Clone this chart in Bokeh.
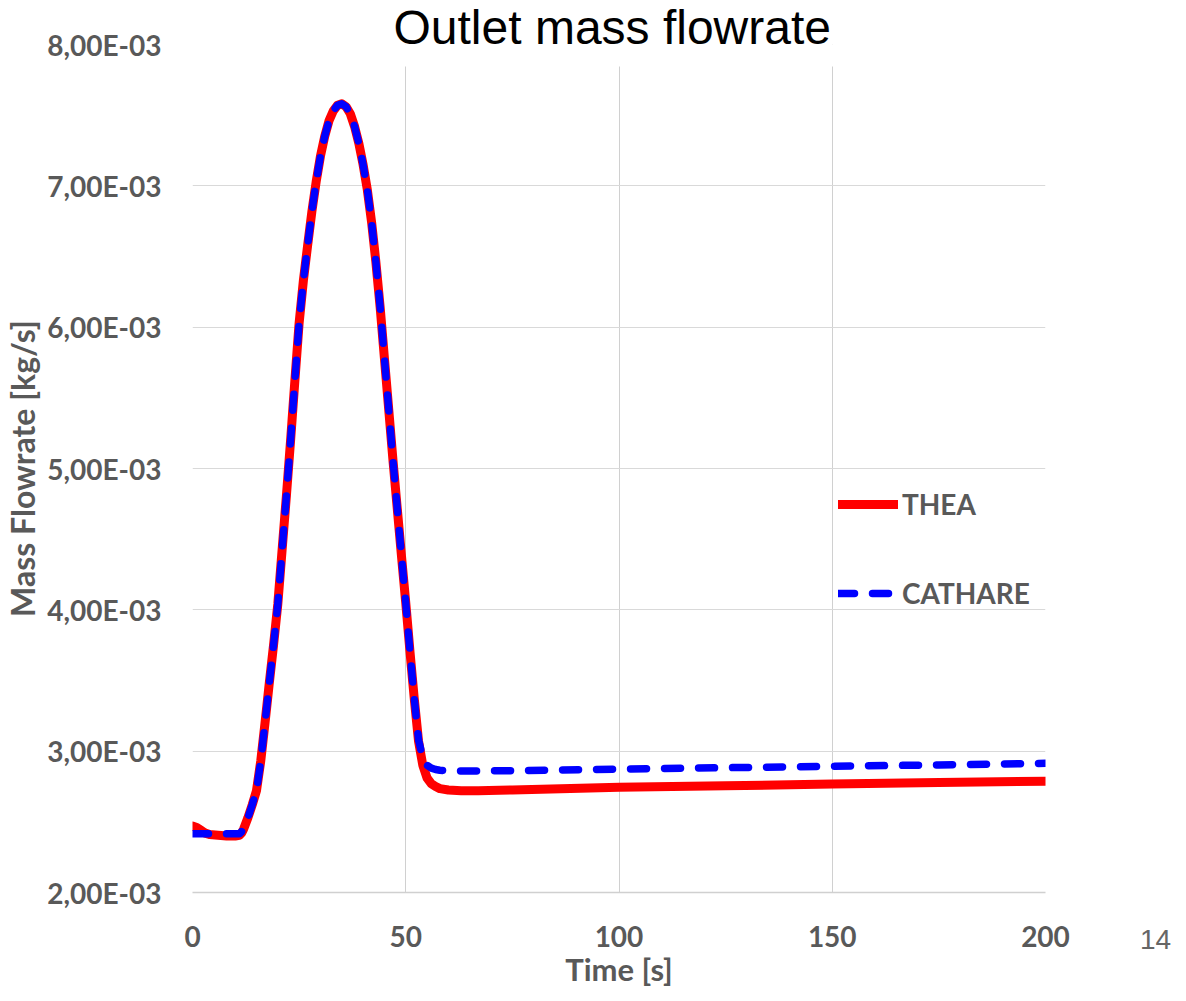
from bokeh.plotting import figure
from bokeh.embed import file_html
from bokeh.resources import INLINE
from bokeh.models import (Range1d, FixedTicker, CustomJSTickFormatter, Label,
                          BoxAnnotation, Legend, LegendItem)

# ---- data ----
time_s = [0, 1, 2, 3, 4, 6, 8, 10, 11, 11.5, 12, 13, 14, 15, 16, 17, 18, 19, 20,
          21, 22, 23, 24, 25, 26, 27, 28, 29, 30, 31, 32, 33, 34, 35, 36, 37, 38,
          39, 40, 41, 42, 43, 44, 45, 46, 47, 48, 49, 50, 51, 52, 53, 54, 55, 56,
          57, 58, 60, 63, 67, 75, 100, 125, 150, 175, 200]

thea = [2.47e-3, 2.46e-3, 2.44e-3, 2.42e-3, 2.41e-3, 2.405e-3, 2.40e-3, 2.40e-3,
        2.405e-3, 2.42e-3, 2.45e-3, 2.53e-3, 2.62e-3, 2.72e-3, 2.93e-3, 3.20e-3,
        3.48e-3, 3.75e-3, 4.04e-3, 4.42e-3, 4.80e-3, 5.20e-3, 5.62e-3, 6.03e-3,
        6.33e-3, 6.58e-3, 6.82e-3, 7.03e-3, 7.21e-3, 7.35e-3, 7.46e-3, 7.53e-3,
        7.57e-3, 7.58e-3, 7.56e-3, 7.51e-3, 7.42e-3, 7.30e-3, 7.15e-3, 6.97e-3,
        6.74e-3, 6.46e-3, 6.14e-3, 5.78e-3, 5.42e-3, 5.06e-3, 4.72e-3, 4.38e-3,
        4.05e-3, 3.70e-3, 3.37e-3, 3.07e-3, 2.90e-3, 2.81e-3, 2.77e-3, 2.75e-3,
        2.735e-3, 2.725e-3, 2.72e-3, 2.72e-3, 2.725e-3, 2.745e-3, 2.755e-3,
        2.767e-3, 2.778e-3, 2.787e-3]

cathare = [2.415e-3, 2.415e-3, 2.415e-3, 2.415e-3, 2.415e-3, 2.415e-3, 2.415e-3,
           2.415e-3, 2.415e-3, 2.43e-3, 2.46e-3, 2.53e-3, 2.62e-3, 2.72e-3,
           2.93e-3, 3.20e-3, 3.48e-3, 3.75e-3, 4.04e-3, 4.42e-3, 4.80e-3, 5.20e-3,
           5.62e-3, 6.03e-3, 6.33e-3, 6.58e-3, 6.82e-3, 7.03e-3, 7.21e-3, 7.35e-3,
           7.46e-3, 7.53e-3, 7.57e-3, 7.58e-3, 7.56e-3, 7.51e-3, 7.42e-3, 7.30e-3,
           7.15e-3, 6.97e-3, 6.74e-3, 6.46e-3, 6.14e-3, 5.78e-3, 5.42e-3, 5.06e-3,
           4.72e-3, 4.38e-3, 4.05e-3, 3.70e-3, 3.37e-3, 3.08e-3, 2.95e-3, 2.90e-3,
           2.88e-3, 2.87e-3, 2.865e-3, 2.862e-3, 2.86e-3, 2.86e-3, 2.862e-3,
           2.873e-3, 2.883e-3, 2.893e-3, 2.903e-3, 2.914e-3]

x_ticks = [0, 50, 100, 150, 200]
y_ticks = [2e-3, 3e-3, 4e-3, 5e-3, 6e-3, 7e-3, 8e-3]
series_names = ["THEA", "CATHARE"]
title_text = "Outlet mass flowrate"
x_label = "Time [s]"
y_label = "Mass Flowrate [kg/s]"
page_number = "14"

GRAY = "#595959"
GRID = "#d9d9d9"

p = figure(frame_width=853, frame_height=848, x_range=Range1d(0, 200),
           y_range=Range1d(2e-3, 8e-3), output_backend="svg",
           toolbar_location=None, min_border_left=186, min_border_right=126,
           min_border_top=44, min_border_bottom=98, title=title_text)
p.outline_line_color = None
p.background_fill_color = "white"

# title (top, slightly left of centre, overlapping the plot-area top)
p.title.text_font = "Liberation Sans"
p.title.text_font_size = "48px"
p.title.text_font_style = "normal"
p.title.text_color = "black"
p.title.align = "left"
p.title.offset = 201
p.title.standoff = -19

r1 = p.line(time_s, thea, line_color="#FF0000", line_width=9,
            line_cap="round", line_join="round")
r2 = p.line(time_s, cathare, line_color="#0000FF", line_width=7.5,
            line_dash="16 18", line_cap="round", line_join="round")

# axes
p.xaxis.ticker = FixedTicker(ticks=x_ticks)
p.yaxis.ticker = FixedTicker(ticks=y_ticks)
p.yaxis.formatter = CustomJSTickFormatter(code="""
const s = tick.toExponential(2).replace('.', ',');
const m = s.match(/^(.*)e([+-])(\\d+)$/);
return m[1] + 'E' + m[2] + m[3].padStart(2, '0');
""")
for ax in (p.xaxis[0], p.yaxis[0]):
    ax.major_tick_line_color = None
    ax.minor_tick_line_color = None
    ax.major_label_text_font = "Lato"
    ax.major_label_text_font_style = "bold"
    ax.major_label_text_font_size = "28px"
    ax.major_label_text_color = GRAY
    ax.axis_label_text_font = "Lato"
    ax.axis_label_text_font_style = "bold"
    ax.axis_label_text_color = GRAY
p.xaxis.axis_label_text_font_size = "31px"
p.yaxis.axis_label_text_font_size = "32px"
p.xaxis.axis_line_color = "#d0d0d0"
p.xaxis.axis_line_width = 1.5
p.yaxis.axis_line_color = None
p.xaxis.axis_label = x_label
p.yaxis.axis_label = y_label
p.xaxis.major_label_standoff = 27
p.xaxis.axis_label_standoff = 0
p.yaxis.major_label_standoff = 25
p.yaxis.axis_label_standoff = 2

p.grid.grid_line_color = GRID
p.grid.grid_line_width = 1
p.xgrid.grid_line_color = "#d0d0d0"

# white strip hiding the top of the plot area (under the title box)
p.add_layout(BoxAnnotation(bottom=7.845e-3, fill_color="white", fill_alpha=1.0,
                           line_color=None))

# page number in the right margin
p.add_layout(Label(x=225.8, y=1.60e-3, text=page_number, text_align="center",
                   text_baseline="bottom", text_font="Liberation Sans",
                   text_font_size="28px", text_color="#666666"), "right")

legend = Legend(items=[LegendItem(label=series_names[0], renderers=[r1]),
                       LegendItem(label=series_names[1], renderers=[r2])],
                location=(646, 282), glyph_width=60, glyph_height=34,
                label_height=34, label_standoff=4, spacing=55, padding=0,
                margin=0, border_line_color=None, background_fill_alpha=0,
                label_text_font="Lato", label_text_font_style="bold",
                label_text_font_size="28px", label_text_color=GRAY)
p.add_layout(legend)

open("out.html", "w").write(file_html(p, INLINE))
